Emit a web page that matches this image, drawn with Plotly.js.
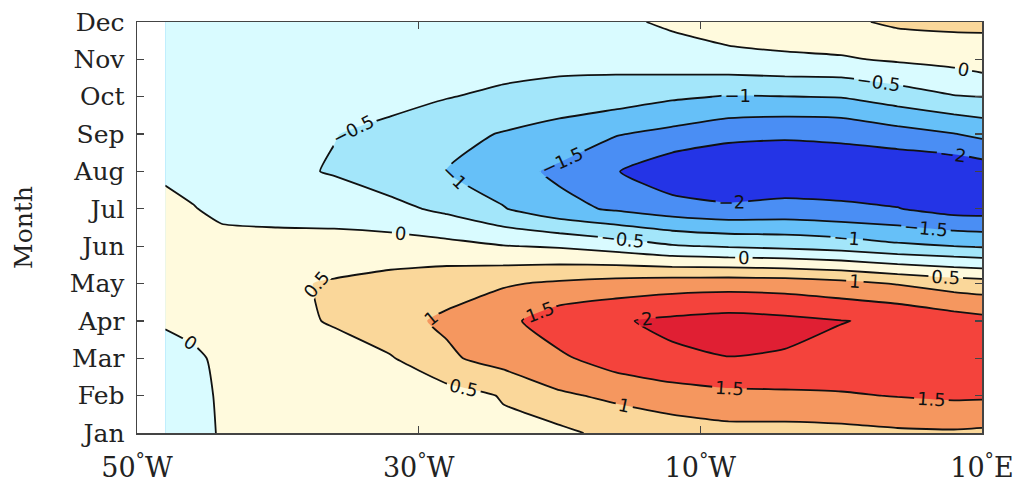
<!DOCTYPE html>
<html>
<head>
<meta charset="utf-8">
<script src="https://cdn.plot.ly/plotly-3.0.1.min.js"></script>
<style>
  html, body { margin: 0; padding: 0; background: #fff; }
  #chart { width: 1025px; height: 483px; }
</style>
</head>
<body>
<div id="chart"></div>
<script>
// Longitudes of the data columns (degrees, negative = West)
const lons = [-48, -46, -44, -40, -36, -32, -28, -24, -20, -16, -12, -8, -4, 0, 4, 8, 10];

// Month labels (row order bottom -> top)
const monthLabels = ['Jan','Feb','Mar','Apr','May','Jun','Jul','Aug','Sep','Oct','Nov','Dec'];
const monthIdx = [1,2,3,4,5,6,7,8,9,10,11,12];

// Values per month, one value per longitude column
const jan = [-0.30,-0.12, 0.03, 0.15, 0.20, 0.27, 0.28, 0.40, 0.38, 0.66, 0.74, 0.83, 0.82, 0.85, 0.92, 0.94, 0.91];
const feb = [-0.30,-0.12, 0.05, 0.20, 0.25, 0.33, 0.30, 0.53, 0.93, 1.09, 1.27, 1.375,1.41, 1.45, 1.52, 1.58, 1.57];
const mar = [-0.28,-0.09, 0.10, 0.30, 0.36, 0.46, 0.92, 1.20, 1.41, 1.75, 1.92, 1.99, 1.96, 1.90, 1.85, 1.80, 1.75];
const apr = [ 0.08, 0.15, 0.25, 0.40, 0.53, 0.85, 1.08, 1.35, 1.80, 1.95, 2.10, 2.19, 2.12, 2.01, 1.95, 1.75, 1.66];
const may = [ 0.30, 0.30, 0.30, 0.40, 0.56, 0.67, 0.81, 0.95, 1.08, 1.20, 1.27, 1.30, 1.27, 1.16, 0.97, 0.78, 0.72];
const jun = [ 0.30, 0.22, 0.15, 0.15, 0.115,0.21, 0.15, 0.02,-0.05,-0.22,-0.45,-0.55,-0.62,-0.72,-0.90,-1.00,-1.05];
const jul = [ 0.20, 0.02,-0.10,-0.15,-0.13,-0.36,-0.61,-0.97,-1.35,-1.567,-1.78,-1.90,-1.85,-1.92,-1.98,-2.20,-2.22];
const aug = [-0.12,-0.15,-0.20,-0.35,-0.55,-0.78,-1.01,-1.30,-1.60,-1.97,-2.37,-2.48,-2.37,-2.30,-2.45,-2.41,-2.30];
const sep = [-0.15,-0.17,-0.20,-0.30,-0.48,-0.68,-0.85,-1.03,-1.18,-1.47,-1.64,-1.85,-1.93,-1.90,-1.70,-1.52,-1.38];
const oct = [-0.15,-0.17,-0.20,-0.25,-0.30,-0.30,-0.48,-0.60,-0.75,-0.76,-0.93,-1.03,-1.01,-0.98,-0.76,-0.53,-0.50];
const nov = [-0.15,-0.17,-0.20,-0.22,-0.25,-0.25,-0.25,-0.30,-0.29,-0.32,-0.20,-0.135,-0.07,-0.05, 0.06, 0.15, 0.28];
const dec = [-0.15,-0.17,-0.20,-0.20,-0.22,-0.20,-0.15,-0.12,-0.10,-0.08, 0.067,0.23, 0.26, 0.40, 0.59, 0.63, 0.59];

// Axis tick labels
const xTickVals = [-50, -30, -10, 10];
const xTickText = ['50<sup>°</sup>W', '30<sup>°</sup>W', '10<sup>°</sup>W', '10<sup>°</sup>E'];

// Band colours from lowest (< -2) to highest (> 2), band edges every 0.5
const bandEdges = [-2, -1.5, -1, -0.5, 0, 0.5, 1, 1.5, 2];
const bandColors = ['#2434e6', '#4a8ef4', '#66c0f8', '#a3e6fa', '#d9fbff',
                    '#fffadd', '#fad79a', '#f5975f', '#f4433c', '#e01f33'];

const z = [jan, feb, mar, apr, may, jun, jul, aug, sep, oct, nov, dec];

// Contour level set (wide range so Plotly spaces labels more densely;
// only the levels inside the data range are drawn)
const cStart = -10, cEnd = 10, cSize = 0.5;
const nLevels = Math.round((cEnd - cStart) / cSize) + 1;
const colorscale = [];
for (let k = 0; k <= nLevels; k++) {
  const mid = cStart - cSize / 2 + k * cSize;          // midpoint of band k
  let idx = bandEdges.findIndex(e => mid < e);
  if (idx === -1) idx = bandEdges.length;
  colorscale.push([k / nLevels, bandColors[idx]]);
}

const serif = 'DejaVu Serif, serif';

const trace = {
  type: 'contour',
  x: lons,
  y: monthIdx,
  z: z,
  colorscale: colorscale,
  showscale: false,
  contours: {
    start: cStart, end: cEnd, size: cSize,
    coloring: 'fill',
    showlabels: true,
    labelfont: { family: 'DejaVu Sans, sans-serif', size: 18, color: '#111' }
  },
  line: { color: '#111', width: 1.8, smoothing: 0.5 },
  hoverinfo: 'skip'
};

const layout = {
  width: 1025, height: 483,
  margin: { l: 137, r: 43, t: 22, b: 50 },
  paper_bgcolor: '#fff',
  plot_bgcolor: '#fff',
  showlegend: false,
  xaxis: {
    range: [-50, 10],
    tickvals: xTickVals,
    ticktext: xTickText,
    ticks: 'inside', ticklen: 7, tickwidth: 1.3, tickcolor: '#444',
    mirror: 'ticks', showline: true, linecolor: '#444', linewidth: 1.5,
    showgrid: false, zeroline: false,
    tickfont: { family: serif, size: 27, color: '#222' },
    ticklabelstandoff: 10
  },
  yaxis: {
    range: [1, 12],
    tickvals: monthIdx,
    ticktext: monthLabels,
    ticks: 'inside', ticklen: 7, tickwidth: 1.3, tickcolor: '#444',
    mirror: 'ticks', showline: true, linecolor: '#444', linewidth: 1.5,
    showgrid: false, zeroline: false,
    tickfont: { family: serif, size: 25, color: '#222' },
    ticklabelstandoff: 6,
    title: { text: 'Month', font: { family: serif, size: 25, color: '#222' }, standoff: 30 }
  }
};

Plotly.newPlot('chart', [trace], layout, { staticPlot: true, displayModeBar: false });
</script>
</body>
</html>
